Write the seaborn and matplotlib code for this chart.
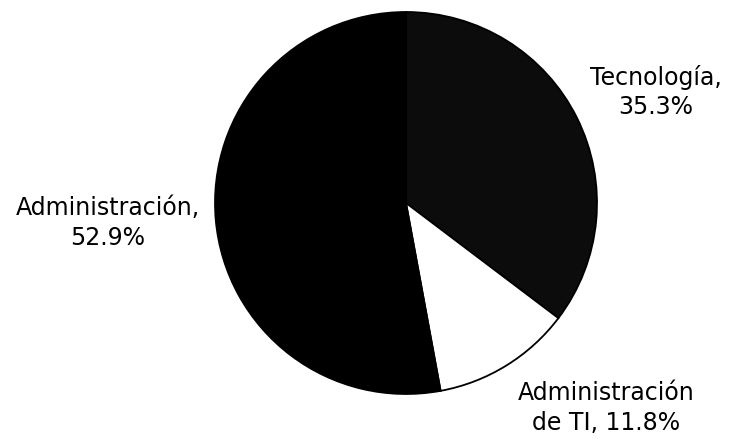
import matplotlib
matplotlib.use("Agg")
import matplotlib.pyplot as plt
import seaborn as sns

categories = ["Tecnología", "Administración de TI", "Administración"]
shares = [35.3, 11.8, 52.9]
label_texts = ["Tecnología,\n35.3%", "Administración\nde TI, 11.8%", "Administración,\n52.9%"]
slice_colors = ["#0c0c0c", "#ffffff", "#000000"]

sns.set_theme(style="white")
plt.rcParams["font.family"] = ["DejaVu Sans"]

W, H = 732, 440
fig = plt.figure(figsize=(W / 100, H / 100), dpi=100)
fig.patch.set_facecolor("white")

# pie axes: centre (406, 203) px, radius 191 px
cx, cy, r = 406, 203, 191
ax = fig.add_axes([(cx - r) / W, (H - cy - r) / H, 2 * r / W, 2 * r / H])
ax.pie(shares, colors=slice_colors, startangle=90, counterclock=False,
       wedgeprops=dict(edgecolor="black", linewidth=1.3))
ax.set_xlim(-1, 1)
ax.set_ylim(-1, 1)
ax.set_aspect("equal")
ax.axis("off")

# label positions (figure pixels, centre of text block)
label_pos = [(656, 92), (606, 408), (108, 223)]
for txt, (px, py) in zip(label_texts, label_pos):
    fig.text(px / W, 1 - py / H, txt, ha="center", va="center",
             fontsize=17, color="black", linespacing=1.28)

fig.savefig("out.png", dpi=100, facecolor="white")
